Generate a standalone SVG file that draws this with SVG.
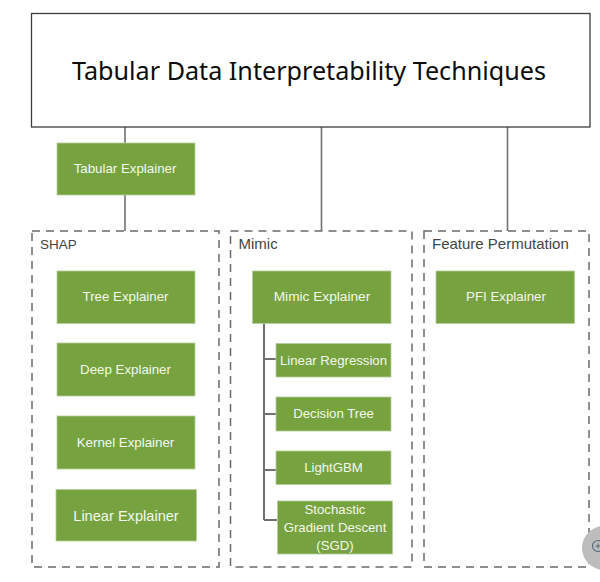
<svg xmlns="http://www.w3.org/2000/svg" width="600" height="582" viewBox="0 0 600 582">
<style>
.c{fill:none;stroke:#717171;stroke-width:1.6}
.b{stroke-width:2}
.d{fill:none;stroke:#6a6a6a;stroke-width:1.5;stroke-dasharray:8 6}
.n{fill:#76a23f;stroke:#b5cf9c;stroke-width:.8}
.t{font-family:"Liberation Sans",Arial,sans-serif;font-size:13.300px;fill:#f4f8ee;text-anchor:middle}
.s{font-size:13.200px}
.l{font-family:"Liberation Sans",Arial,sans-serif;font-size:15px;fill:#444}
</style>
<rect width="600" height="582" fill="#fff"/>
<g id="connectors">
<path class="c" d="M125 127V143M125 195V231M321.500 127V231M507.500 127V231"/>
<path class="c b" d="M264 323V520M264 359H276M264 414H276M264 470H276M264 520H277"/>
</g>
<g id="title"><rect x="31.500" y="13.500" width="558.500" height="113.500" fill="#fff" stroke="#3c3c3c" stroke-width="1.300"/>
<text x="309" y="80" font-family="'Noto Sans','Open Sans',sans-serif" font-size="25" fill="#0c0c0c" text-anchor="middle" textLength="474" lengthAdjust="spacingAndGlyphs">Tabular Data Interpretability Techniques</text></g>
<g id="group-shap"><rect class="d" x="32" y="231" width="187" height="336"/><text class="l" x="40" y="249" style="font-size:13.500px">SHAP</text></g>
<g id="group-mimic"><rect class="d" x="230.500" y="231" width="181.500" height="336"/><text class="l" x="238.500" y="249">Mimic</text></g>
<g id="group-feature"><rect class="d" x="424" y="231" width="165" height="336"/><text class="l" x="432" y="249">Feature Permutation</text></g>
<g id="tabular-explainer"><rect class="n" x="57" y="143" width="138" height="52"/><text class="t" x="125" y="173">Tabular Explainer</text></g>
<g id="tree-explainer"><rect class="n" x="57" y="271" width="138" height="52.500"/><text class="t" x="125.500" y="301">Tree Explainer</text></g>
<g id="deep-explainer"><rect class="n" x="57" y="343" width="138" height="53"/><text class="t" x="125.500" y="374">Deep Explainer</text></g>
<g id="kernel-explainer"><rect class="n" x="57" y="416" width="138" height="53"/><text class="t" x="125.500" y="447">Kernel Explainer</text></g>
<g id="linear-explainer"><rect class="n" x="56" y="489.500" width="140.500" height="51.500"/><text class="t" x="126" y="521" style="font-size:14.600px">Linear Explainer</text></g>
<g id="mimic-explainer"><rect class="n" x="252.500" y="271" width="138.500" height="52.500"/><text class="t" x="322" y="301" style="font-size:13.700px">Mimic Explainer</text></g>
<g id="linear-regression"><rect class="n" x="276" y="343.500" width="115" height="33.500"/><text class="t s" x="333.500" y="365">Linear Regression</text></g>
<g id="decision-tree"><rect class="n" x="276" y="397" width="115" height="34"/><text class="t s" x="333.500" y="418">Decision Tree</text></g>
<g id="lightgbm"><rect class="n" x="276" y="451" width="115" height="33.500"/><text class="t s" x="333.500" y="472">LightGBM</text></g>
<g id="sgd"><rect class="n" x="277.500" y="501" width="115" height="53"/><text class="t s" x="335" y="514">Stochastic</text><text class="t s" x="335" y="532">Gradient Descent</text><text class="t s" x="335" y="550">(SGD)</text></g>
<g id="pfi-explainer"><rect class="n" x="436" y="271" width="138.500" height="52.500"/><text class="t" x="506" y="301">PFI Explainer</text></g>
<circle cx="604" cy="548" r="22" fill="#bdbdbd"/>
<circle cx="598" cy="546" r="5.500" fill="none" stroke="#56697f" stroke-width="1.200"/>
<path d="M595.500 546H600.500M598 543.500V548.500" stroke="#56697f" stroke-width="1"/>
</svg>
